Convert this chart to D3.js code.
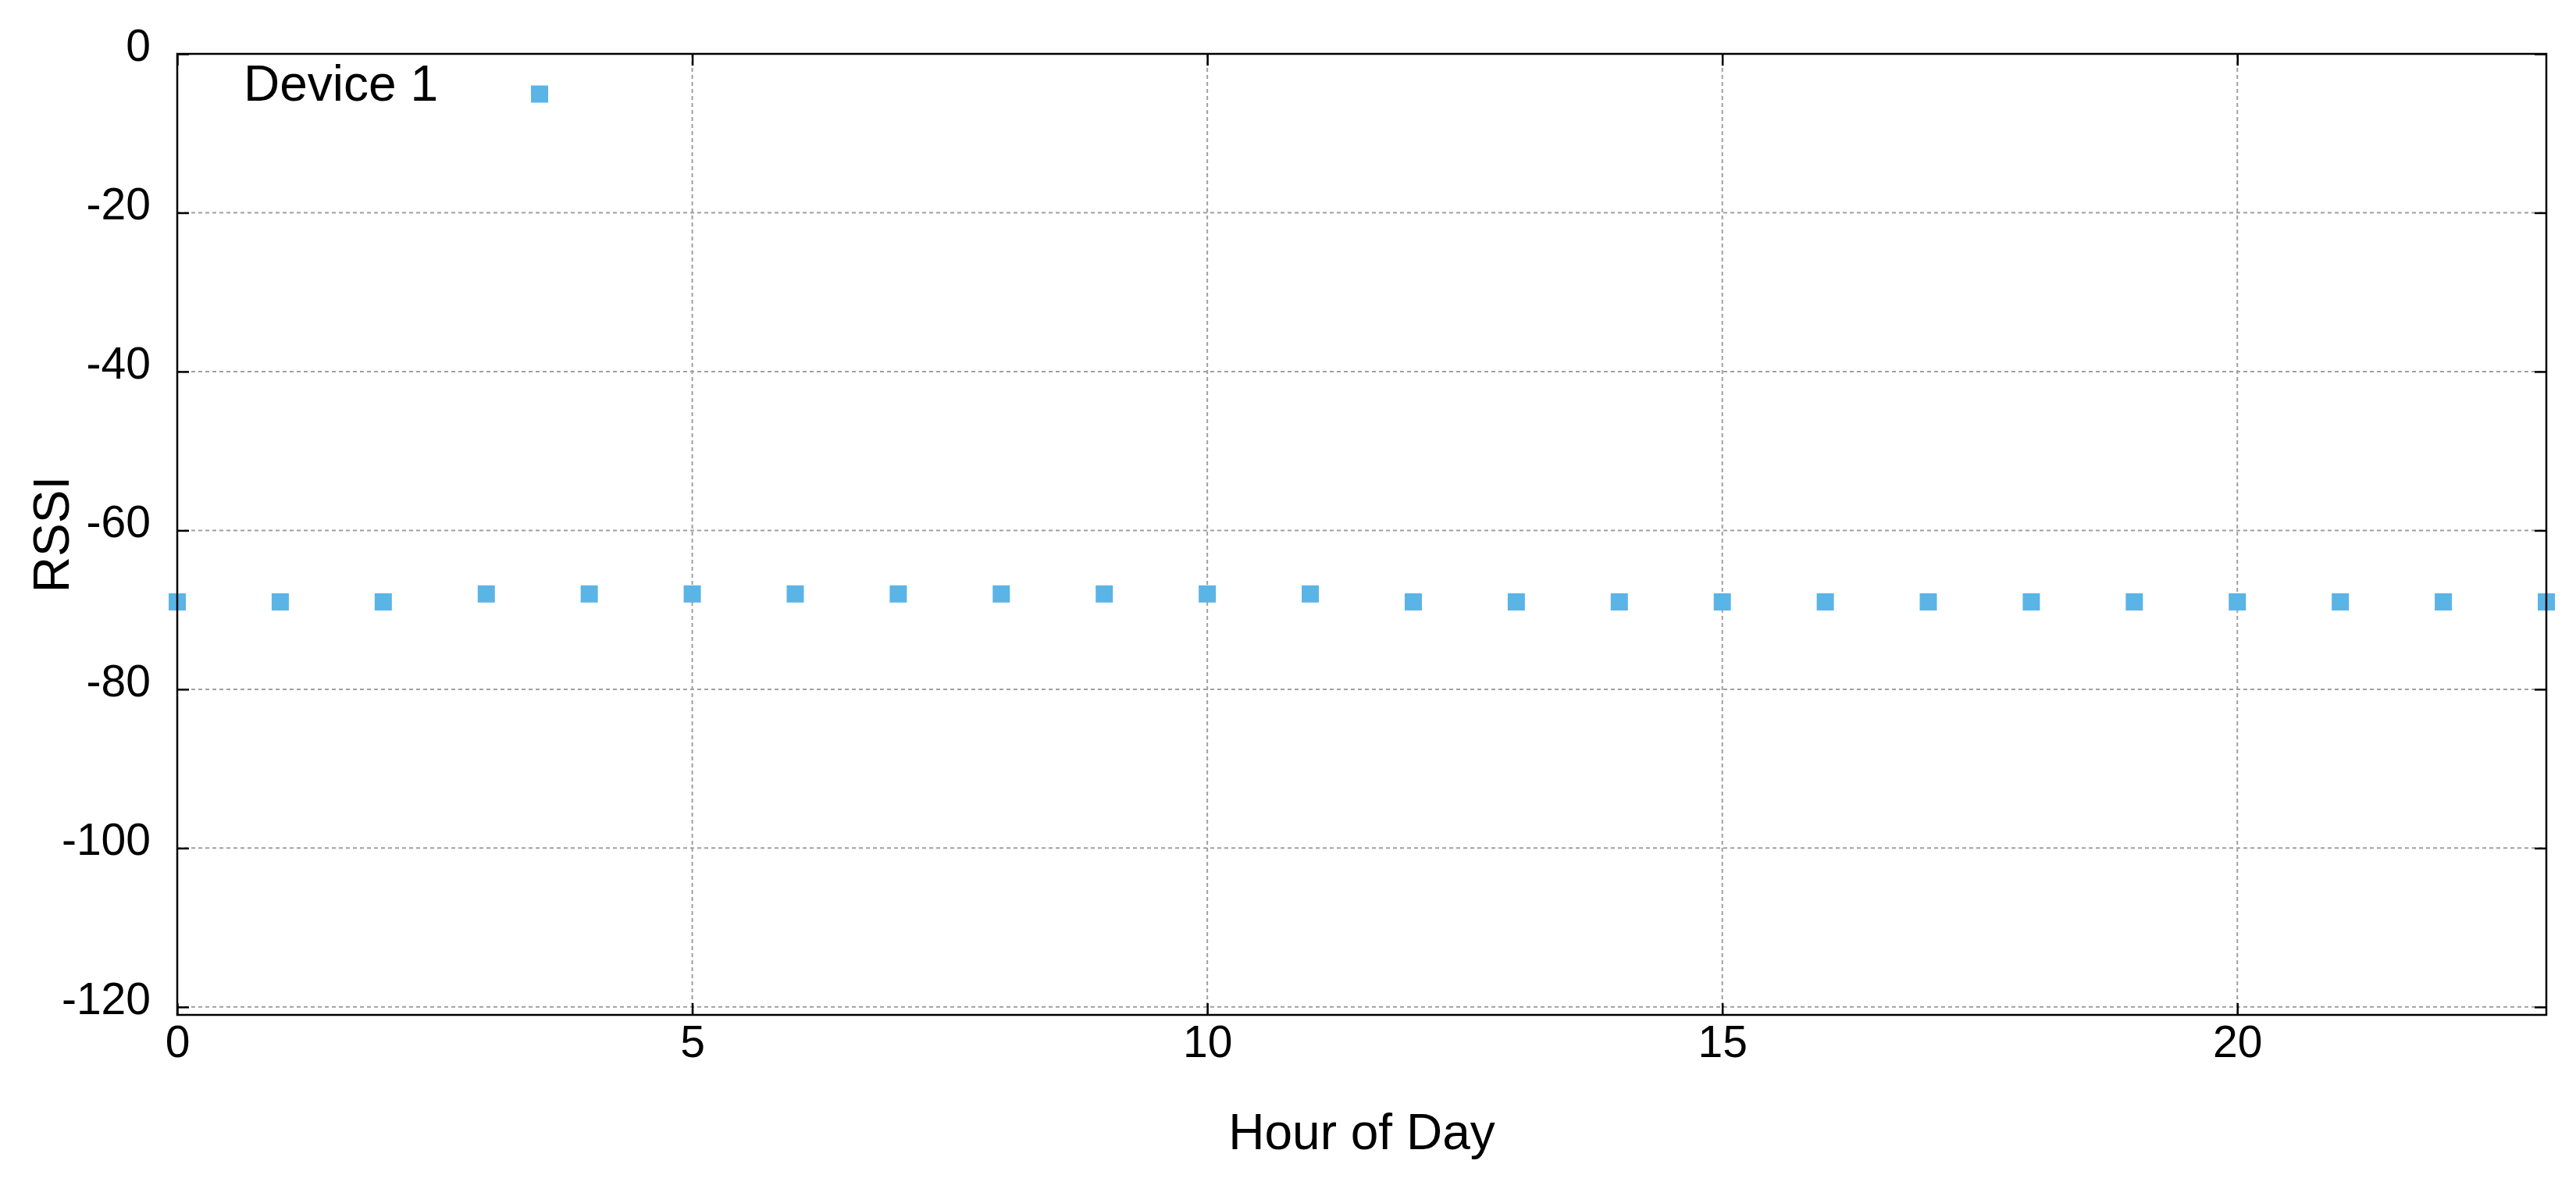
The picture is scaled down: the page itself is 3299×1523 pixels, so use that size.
<!DOCTYPE html>
<html>
<head>
<meta charset="utf-8">
<script src="https://cdn.jsdelivr.net/npm/d3@7"></script>
<style>
  html, body { margin: 0; padding: 0; background: #fff; }
  svg { display: block; }
  text { font-family: "Liberation Sans", Arial, sans-serif; fill: #000; }
</style>
</head>
<body>
<div id="chart"></div>
<script>
// ---- data ----
const hours = [0,1,2,3,4,5,6,7,8,9,10,11,12,13,14,15,16,17,18,19,20,21,22,23];
const rssi  = [-69,-69,-69,-68,-68,-68,-68,-68,-68,-68,-68,-68,-69,-69,-69,-69,-69,-69,-69,-69,-69,-69,-69,-69];
const seriesName = "Device 1";
const xTicks = [0,5,10,15,20];
const yTicks = [0,-20,-40,-60,-80,-100,-120];
const xTitle = "Hour of Day";
const yTitle = "RSSI";

// ---- layout ----
const W = 3299, H = 1523;
const L = 227, R = 3261, T = 69, B = 1300;
const color = "#5bb4e6";
const tickFont = 57, labelFont = 64;

const svg = d3.select("#chart").append("svg").attr("width", W).attr("height", H);
svg.append("rect").attr("width", W).attr("height", H).attr("fill", "#fff");

const x = d3.scaleLinear().domain([0, 23]).range([L, R]);
const y = d3.scaleLinear().domain([-121, 0]).range([B, T]);

// grid
const grid = svg.append("g").attr("stroke", "#a0a0a0").attr("stroke-width", 2).attr("stroke-dasharray", "5,4");
grid.selectAll("line.gx").data(xTicks.filter(v => v > 0)).enter().append("line")
  .attr("x1", d => x(d)).attr("x2", d => x(d)).attr("y1", T).attr("y2", B);
grid.selectAll("line.gy").data(yTicks.filter(v => v < 0)).enter().append("line")
  .attr("y1", d => y(d)).attr("y2", d => y(d)).attr("x1", L).attr("x2", R);

// axes (ticks inward, on all four sides)
const fmt = d => String(d);
function styleAxis(g) {
  g.select(".domain").remove();
  g.selectAll(".tick line").attr("stroke", "#000").attr("stroke-width", 2.5);
  g.selectAll(".tick text").style("font-size", tickFont + "px").style("font-family", '"Liberation Sans", Arial, sans-serif').attr("fill", "#000");
}
const ax = svg.append("g").attr("transform", `translate(0,${B})`)
  .call(d3.axisBottom(x).tickValues(xTicks).tickSize(-15).tickPadding(14).tickFormat(fmt));
styleAxis(ax);
ax.selectAll(".tick text").attr("dy", "0.71em");

const axTop = svg.append("g").attr("transform", `translate(0,${T})`)
  .call(d3.axisTop(x).tickValues(xTicks).tickSize(-15).tickFormat(""));
styleAxis(axTop);

const ay = svg.append("g").attr("transform", `translate(${L},0)`)
  .call(d3.axisLeft(y).tickValues(yTicks).tickSize(-15).tickPadding(34).tickFormat(fmt));
styleAxis(ay);
ay.selectAll(".tick text").attr("dy", "8.5px");

const ayR = svg.append("g").attr("transform", `translate(${R},0)`)
  .call(d3.axisRight(y).tickValues(yTicks).tickSize(-15).tickFormat(""));
styleAxis(ayR);

// points
const sz = 22;
svg.append("g").selectAll("rect.pt").data(hours).enter().append("rect")
  .attr("class", "pt")
  .attr("x", (d) => x(d) - sz / 2)
  .attr("y", (d, i) => y(rssi[i]) - sz / 2)
  .attr("width", sz).attr("height", sz)
  .attr("fill", color);

// frame
svg.append("rect").attr("x", L).attr("y", T).attr("width", R - L).attr("height", B - T)
  .attr("fill", "none").attr("stroke", "#000").attr("stroke-width", 2.5);

// legend
svg.append("text").attr("x", 312).attr("y", 129).style("font-size", labelFont + "px").text(seriesName);
svg.append("rect").attr("x", 691 - sz / 2).attr("y", 120.5 - sz / 2).attr("width", sz).attr("height", sz).attr("fill", color);

// axis titles
svg.append("text").attr("x", (L + R) / 2).attr("y", 1472).attr("text-anchor", "middle")
  .style("font-size", labelFont + "px").text(xTitle);
svg.append("text").attr("transform", `translate(88,${(T + B) / 2}) rotate(-90)`).attr("text-anchor", "middle")
  .style("font-size", labelFont + "px").text(yTitle);
</script>
</body>
</html>
